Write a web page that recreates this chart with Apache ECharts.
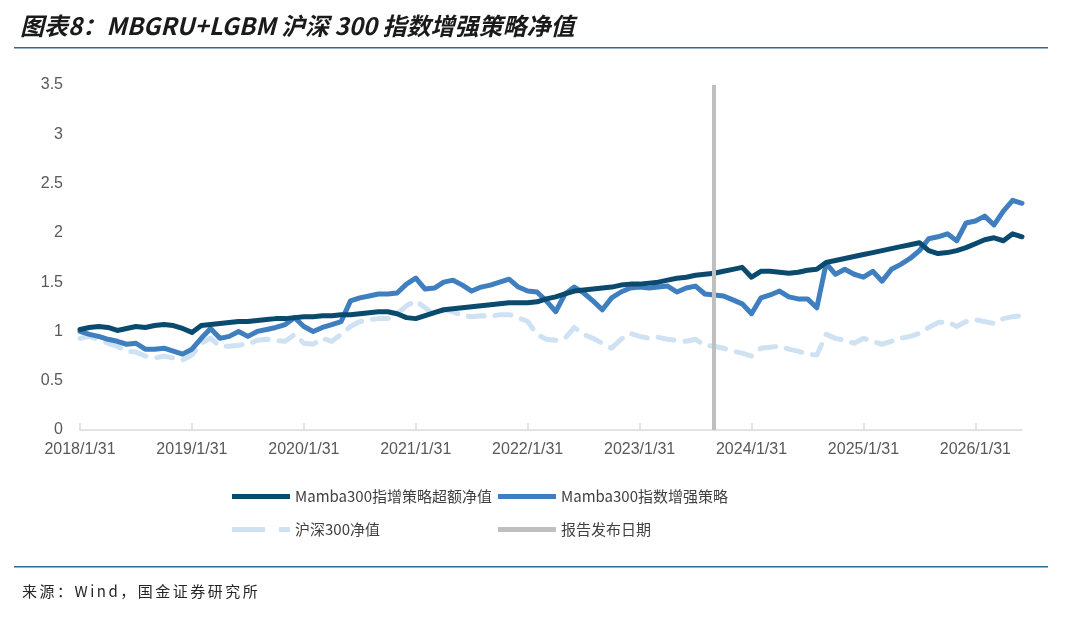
<!DOCTYPE html>
<html>
<head>
<meta charset="utf-8">
<script src="https://cdn.jsdelivr.net/npm/echarts@6/dist/echarts.min.js"></script>
<style>
  html, body { margin: 0; padding: 0; background: #fff; }
  #wrap { position: relative; width: 1080px; height: 617px; }
  #chart { width: 1080px; height: 617px; }
  .title { position: absolute; left: 20px; top: 10px; line-height: 30px; font-family: 'Noto Sans CJK SC'; font-size: 24px; font-weight: bold; font-style: italic; color: #1a1a1a; white-space: nowrap; }
  .source { position: absolute; left: 22px; top: 580px; line-height: 22px; font-family: 'Noto Sans CJK SC'; font-size: 15px; letter-spacing: 2.5px; color: #262626; white-space: nowrap; }
</style>
</head>
<body>
<div id="wrap">
  <div id="chart"></div>
  <div class="title">图表8：MBGRU+LGBM 沪深 300 指数增强策略净值</div>
  <div class="source">来源：Wind，国金证券研究所</div>
</div>
<script>
// month-end net values, 2018/1/31 .. 2026/6/30
var excessNav = [
  1.02, 1.04, 1.05, 1.04, 1.01, 1.03, 1.05, 1.04, 1.06, 1.07, 1.06, 1.03,
  0.99, 1.06, 1.07, 1.08, 1.09, 1.10, 1.10, 1.11, 1.12, 1.13, 1.13, 1.14,
  1.15, 1.15, 1.16, 1.16, 1.17, 1.17, 1.18, 1.19, 1.20, 1.20, 1.18, 1.14,
  1.13, 1.16, 1.19, 1.22, 1.23, 1.24, 1.25, 1.26, 1.27, 1.28, 1.29, 1.29,
  1.29, 1.30, 1.33, 1.35, 1.38, 1.41, 1.42, 1.43, 1.44, 1.45, 1.47, 1.48,
  1.48, 1.49, 1.50, 1.52, 1.54, 1.55, 1.57, 1.58, 1.59, 1.61, 1.63, 1.65,
  1.55, 1.61, 1.61, 1.60, 1.59, 1.60, 1.62, 1.63, 1.70, 1.72, 1.74, 1.76,
  1.78, 1.80, 1.82, 1.84, 1.86, 1.88, 1.90, 1.82, 1.79, 1.80, 1.82, 1.85,
  1.89, 1.93, 1.95, 1.92, 1.99, 1.96
];
var strategyNav = [
  1.00, 0.97, 0.95, 0.92, 0.90, 0.87, 0.88, 0.82, 0.82, 0.83, 0.80, 0.77,
  0.82, 0.93, 1.03, 0.93, 0.95, 1.00, 0.95, 1.00, 1.02, 1.04, 1.07, 1.14,
  1.05, 1.00, 1.04, 1.07, 1.10, 1.31, 1.34, 1.36, 1.38, 1.38, 1.39, 1.48,
  1.54, 1.43, 1.44, 1.50, 1.52, 1.47, 1.41, 1.45, 1.47, 1.50, 1.53, 1.45,
  1.41, 1.40, 1.31, 1.20, 1.38, 1.45, 1.39, 1.31, 1.22, 1.34, 1.40, 1.44,
  1.45, 1.44, 1.45, 1.46, 1.40, 1.44, 1.46, 1.38, 1.37, 1.36, 1.32, 1.28,
  1.18, 1.34, 1.37, 1.41, 1.35, 1.33, 1.33, 1.24, 1.69, 1.58, 1.63, 1.58,
  1.55, 1.61, 1.51, 1.63, 1.68, 1.74, 1.82, 1.94, 1.96, 1.99, 1.92, 2.10,
  2.12, 2.17, 2.08, 2.22, 2.33, 2.30
];
var csi300Nav = [
  0.93, 0.95, 0.92, 0.88, 0.85, 0.80, 0.79, 0.75, 0.73, 0.75, 0.73, 0.71,
  0.76, 0.88, 0.93, 0.85, 0.85, 0.86, 0.87, 0.91, 0.92, 0.91, 0.90, 0.97,
  0.88, 0.87, 0.93, 0.90, 0.97, 1.05, 1.10, 1.12, 1.13, 1.13, 1.18, 1.26,
  1.31, 1.24, 1.17, 1.22, 1.20, 1.16, 1.15, 1.16, 1.15, 1.17, 1.17, 1.14,
  1.10, 0.97, 0.92, 0.91, 0.93, 1.04, 0.97, 0.93, 0.88, 0.83, 0.92, 0.98,
  0.95, 0.93, 0.94, 0.92, 0.91, 0.90, 0.92, 0.86, 0.85, 0.83, 0.80, 0.78,
  0.75, 0.83, 0.84, 0.85, 0.82, 0.80, 0.77, 0.76, 0.97, 0.93, 0.91, 0.88,
  0.93, 0.90, 0.87, 0.90, 0.93, 0.95, 0.98, 1.04, 1.09, 1.10, 1.05, 1.10,
  1.12, 1.10, 1.08, 1.13, 1.15, 1.16
];
var releaseDate = '2023/9/30';
var seriesNames = ['Mamba300指增策略超额净值', 'Mamba300指数增强策略', '沪深300净值', '报告发布日期'];

// month-end date labels
var dates = [];
for (var i = 0; i < excessNav.length; i++) {
  var y = 2018 + Math.floor(i / 12), m = i % 12;
  var d = new Date(y, m + 1, 0).getDate();
  dates.push(y + '/' + (m + 1) + '/' + d);
}
var isJan = function (idx) { return dates[idx].split('/')[1] === '1'; };

var solidIcon = 'path://M0,0h58v5h-58z';
var dashIcon = 'path://M0,0h33v5h-33zM47,0h11v5h-11z';
var legendText = { fontFamily: 'Noto Sans CJK SC', fontSize: 15, color: '#404040' };

var chart = echarts.init(document.getElementById('chart'));
var option = {
  backgroundColor: '#fff',
  animation: false,
  graphic: [
    { type: 'rect', shape: { x: 14, y: 47, width: 1034, height: 1.5 }, style: { fill: '#2e6a94' } },
    { type: 'rect', shape: { x: 14, y: 566, width: 1034, height: 1.5 }, style: { fill: '#2e6a94' } }
  ],
  legend: [{
    orient: 'vertical', left: 232, top: 489, padding: 0, itemWidth: 58, itemHeight: 5, itemGap: 18,
    symbolKeepAspect: true,
    data: [{ name: seriesNames[0], icon: solidIcon }, { name: seriesNames[2], icon: dashIcon }],
    textStyle: legendText
  }, {
    orient: 'vertical', left: 498, top: 489, padding: 0, itemWidth: 58, itemHeight: 5, itemGap: 18,
    symbolKeepAspect: true,
    data: [{ name: seriesNames[1], icon: solidIcon }, { name: seriesNames[3], icon: solidIcon }],
    textStyle: legendText
  }],
  grid: { left: 80, right: 58, top: 85, bottom: 187, containLabel: false },
  xAxis: {
    type: 'category', data: dates, boundaryGap: false,
    axisLine: { lineStyle: { color: '#d9d9d9', width: 1.5 } },
    axisTick: { inside: true, length: 7, interval: isJan, lineStyle: { color: '#d9d9d9', width: 1.5 } },
    axisLabel: { interval: isJan, margin: 12, fontFamily: 'Liberation Sans', fontSize: 16, color: '#595959' },
    splitLine: { show: false }
  },
  yAxis: {
    type: 'value', min: 0, max: 3.5, interval: 0.5,
    axisLine: { show: false }, axisTick: { show: false }, splitLine: { show: false },
    axisLabel: { margin: 17, fontFamily: 'Liberation Sans', fontSize: 16, color: '#595959' }
  },
  series: [{
    name: seriesNames[2], type: 'line', data: csi300Nav, symbol: 'none', z: 2,
    itemStyle: { color: '#cfe2f3' },
    lineStyle: { color: '#cfe2f3', width: 5, type: [16, 11], cap: 'round', join: 'round' }
  }, {
    name: seriesNames[1], type: 'line', data: strategyNav, symbol: 'none', z: 3,
    itemStyle: { color: '#3f7fbf' },
    lineStyle: { color: '#3f7fbf', width: 5, cap: 'round', join: 'round' }
  }, {
    name: seriesNames[0], type: 'line', data: excessNav, symbol: 'none', z: 4,
    itemStyle: { color: '#0b4a6f' },
    lineStyle: { color: '#0b4a6f', width: 5, cap: 'round', join: 'round' }
  }, {
    name: seriesNames[3], type: 'line', data: [], symbol: 'none', z: 5,
    itemStyle: { color: '#bfbfbf' },
    lineStyle: { color: '#bfbfbf', width: 4 },
    markLine: {
      silent: true, symbol: 'none', label: { show: false },
      lineStyle: { color: '#bfbfbf', width: 4, type: 'solid' },
      data: [{ xAxis: releaseDate }]
    }
  }]
};
chart.setOption(option);
</script>
</body>
</html>
